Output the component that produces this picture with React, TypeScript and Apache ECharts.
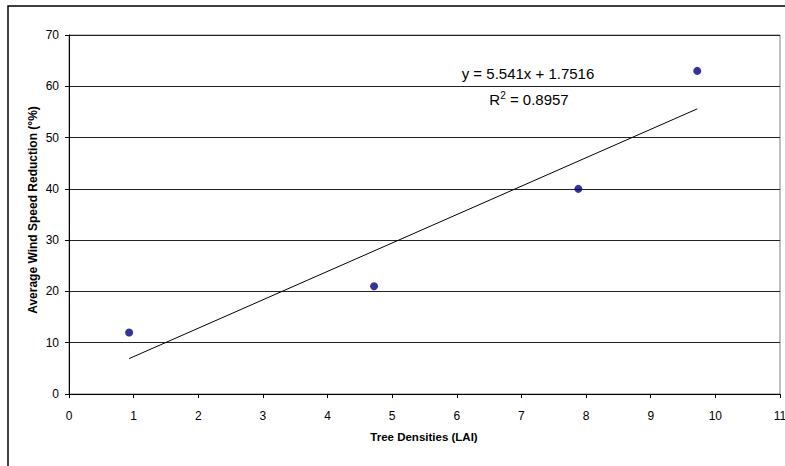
import React, { useEffect, useRef } from "react";
import * as echarts from "echarts";

const xTicks = [0, 1, 2, 3, 4, 5, 6, 7, 8, 9, 10, 11];
const yTicks = [0, 10, 20, 30, 40, 50, 60, 70];
const laiValues = [0.93, 4.72, 7.88, 9.72];
const windReduction = [12, 21, 40, 63];
const trendX = [0.93, 9.72];
const trendY = [6.9, 55.6];
const equationText = "y = 5.541x + 1.7516";
const rSquaredText = "0.8957";
const xTitle = "Tree Densities (LAI)";
const yTitle = "Average Wind Speed Reduction (°%)";

const FONT = "'Liberation Sans', Arial, sans-serif";

export default function App() {
  const ref = useRef<HTMLDivElement>(null);
  useEffect(() => {
    if (!ref.current) return;
    const chart = echarts.init(ref.current, undefined, { renderer: "svg" });
    chart.setOption({
      animation: false,
      backgroundColor: "#fff",
      textStyle: { fontFamily: FONT },
      grid: {
        left: 69,
        top: 35,
        width: 711,
        height: 359,
        show: true,
        borderColor: "#808080",
        borderWidth: 1,
        containLabel: false,
        outerBoundsMode: "none",
      },
      xAxis: {
        type: "value",
        min: xTicks[0],
        max: xTicks[xTicks.length - 1],
        interval: 1,
        axisLine: { show: true, onZero: false, lineStyle: { color: "#000", width: 1 } },
        axisTick: { show: true, inside: false, length: 4, lineStyle: { color: "#000" } },
        axisLabel: { color: "#000", fontSize: 12, margin: 16, fontFamily: FONT, hideOverlap: false },
        splitLine: { show: false },
      },
      yAxis: {
        type: "value",
        min: yTicks[0],
        max: yTicks[yTicks.length - 1],
        interval: 10,
        axisLine: { show: true, onZero: false, lineStyle: { color: "#000", width: 1 } },
        axisTick: { show: true, inside: false, length: 4, lineStyle: { color: "#000" } },
        axisLabel: { color: "#000", fontSize: 12, margin: 10, fontFamily: FONT },
        splitLine: { show: true, lineStyle: { color: "#222", width: 1 } },
      },
      series: [
        {
          type: "line",
          data: trendX.map((x, i) => [x, trendY[i]]),
          symbol: "none",
          lineStyle: { color: "#000", width: 1 },
          silent: true,
          z: 2,
        },
        {
          type: "scatter",
          data: laiValues.map((x, i) => [x, windReduction[i]]),
          symbol: "circle",
          symbolSize: 8,
          itemStyle: { color: "#000080" },
          z: 3,
        },
      ],
      graphic: [
        {
          type: "rect",
          shape: { x: 8, y: 6, width: 800, height: 500 },
          style: { fill: "none", stroke: "#000", lineWidth: 1.5 },
          z: 10,
        },
        {
          type: "text",
          x: 528,
          y: 73,
          style: {
            text: equationText,
            font: `15px ${FONT}`,
            fill: "#000",
            textAlign: "center",
            textVerticalAlign: "middle",
          },
          z: 10,
        },
        {
          type: "text",
          x: 529,
          y: 99,
          style: {
            text: "R{sup|2} = " + rSquaredText,
            font: `15px ${FONT}`,
            fill: "#000",
            textAlign: "center",
            textVerticalAlign: "middle",
            rich: {
              sup: { fontSize: 10, fontFamily: FONT, verticalAlign: "top", padding: [0, 0, 8, 0], fill: "#000" },
            },
          },
          z: 10,
        },
        {
          type: "text",
          x: 424,
          y: 437,
          style: {
            text: xTitle,
            font: `bold 11.5px ${FONT}`,
            fill: "#000",
            textAlign: "center",
            textVerticalAlign: "middle",
          },
          z: 10,
        },
        {
          type: "text",
          x: 33,
          y: 210,
          rotation: Math.PI / 2,
          style: {
            text: yTitle,
            font: `bold 12px ${FONT}`,
            fill: "#000",
            textAlign: "center",
            textVerticalAlign: "middle",
          },
          z: 10,
        },
      ],
    });
    return () => chart.dispose();
  }, []);
  return (
    <div
      ref={ref}
      style={{ position: "fixed", left: 0, top: 0, width: 785, height: 466 }}
    />
  );
}
